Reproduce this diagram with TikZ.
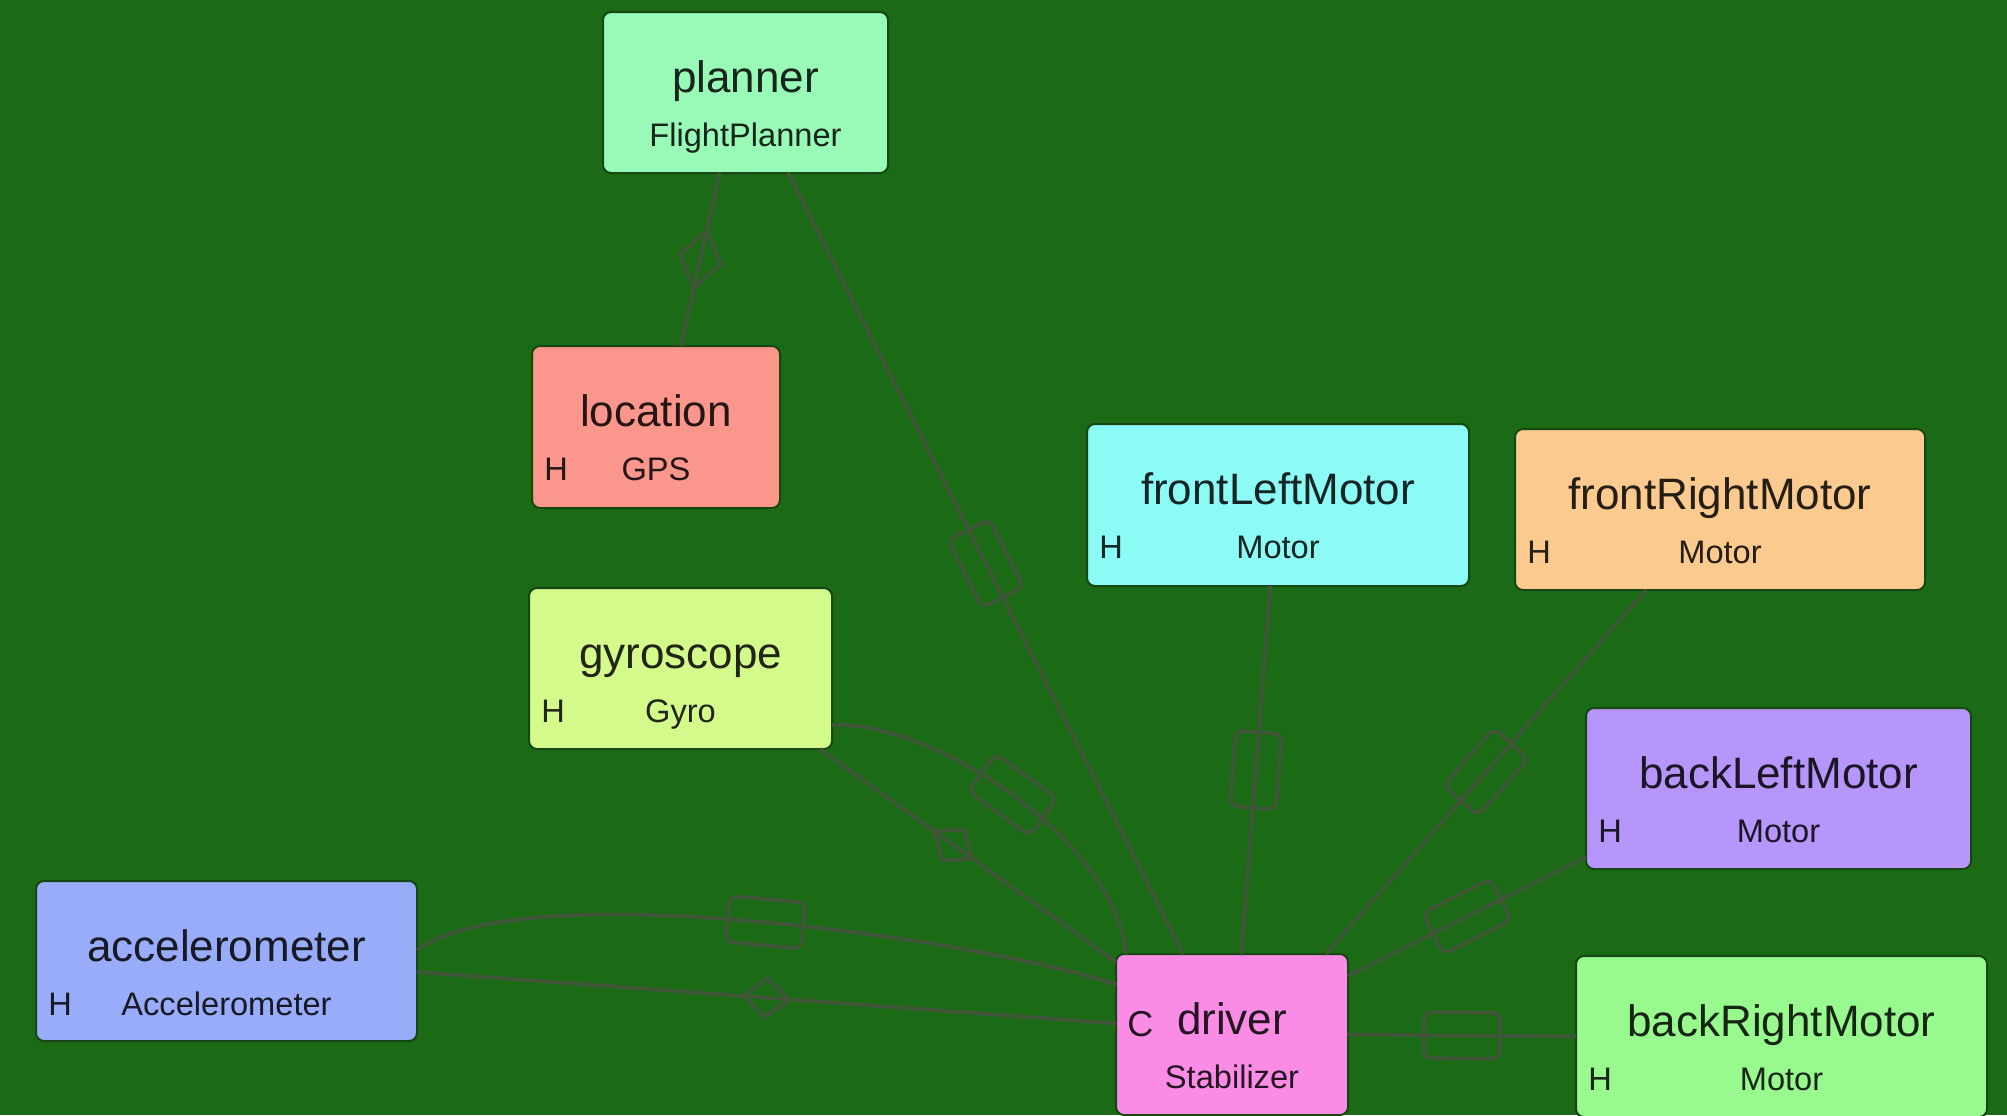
\documentclass[tikz,border=0pt]{standalone}
\usepackage{fontspec}
\setmainfont{Liberation Sans}
\usetikzlibrary{calc,shapes.geometric}

\definecolor{bg}{RGB}{27,106,22}
\definecolor{wirecol}{RGB}{64,86,56}
\definecolor{boxedge}{RGB}{22,70,18}
\definecolor{cPlanner}{RGB}{152,250,182}
\definecolor{cLocation}{RGB}{250,150,140}
\definecolor{cGyro}{RGB}{212,250,140}
\definecolor{cAccel}{RGB}{152,172,250}
\definecolor{cFrontLeft}{RGB}{140,250,245}
\definecolor{cFrontRight}{RGB}{250,202,142}
\definecolor{cBackLeft}{RGB}{182,150,250}
\definecolor{cBackRight}{RGB}{152,250,142}
\definecolor{cDriver}{RGB}{250,140,230}

\tikzset{
  box/.style={rectangle, rounded corners=4pt, draw=boxedge, line width=1pt,
    inner sep=0pt, outer sep=0pt},
  title/.style={font=\fontsize{22}{26}\selectfont, inner sep=0pt, anchor=base},
  kind/.style={font=\fontsize{16.3}{19}\selectfont, inner sep=0pt, anchor=base},
  wire/.style={draw=wirecol, line width=1.9pt},
  port/.style={draw=wirecol, line width=1.9pt, rectangle, rounded corners=4pt,
    minimum width=38pt, minimum height=23pt, inner sep=0pt, sloped},
  agg/.style={draw=wirecol, line width=1.9pt, diamond, minimum width=24pt,
    minimum height=20pt, inner sep=0pt, sloped},
  bigagg/.style={agg, minimum width=30pt, minimum height=22pt},
}

% one component: name, left, top, right, bottom, colour, instance name, type
\newcommand{\compbox}[8]{%
  \node[box, fill=#6, minimum width={(#4-#2)*0.5pt}, minimum height={(#5-#3)*0.5pt}]
    (#1) at ({(#2+#4)/2},{(#3+#5)/2}) {};
  \node[title, text=#6!15!black] (#1-name) at ($(#1.north)+(0,80)$) {#7};
  \node[kind, text=#6!15!black] (#1-kind) at ($(#1.north)+(0,134)$) {#8};
}
\newcommand{\hwmark}[2]{%
  \node[kind, anchor=base west, text=#2!15!black] (#1-h) at ($(#1.north west)+(12,134)$) {H};
}

\begin{document}
\begin{tikzpicture}[x=0.5pt, y=-0.5pt]
  \useasboundingbox (0,0) rectangle (2007,1115);
  \fill[bg] (0,0) rectangle (2007,1115);

  % components
  \compbox{planner}{603}{12}{888}{173}{cPlanner}{planner}{FlightPlanner}
  \compbox{location}{532}{346}{780}{508}{cLocation}{location}{GPS}
  \hwmark{location}{cLocation}
  \compbox{gyroscope}{529}{588}{832}{749}{cGyro}{gyroscope}{Gyro}
  \hwmark{gyroscope}{cGyro}
  \compbox{accelerometer}{36}{881}{417}{1041}{cAccel}{accelerometer}{Accelerometer}
  \hwmark{accelerometer}{cAccel}
  \compbox{frontLeftMotor}{1087}{424}{1469}{586}{cFrontLeft}{frontLeftMotor}{Motor}
  \hwmark{frontLeftMotor}{cFrontLeft}
  \compbox{frontRightMotor}{1515}{429}{1925}{590}{cFrontRight}{frontRightMotor}{Motor}
  \hwmark{frontRightMotor}{cFrontRight}
  \compbox{backLeftMotor}{1586}{708}{1971}{869}{cBackLeft}{backLeftMotor}{Motor}
  \hwmark{backLeftMotor}{cBackLeft}
  \compbox{backRightMotor}{1576}{956}{1987}{1117}{cBackRight}{backRightMotor}{Motor}
  \hwmark{backRightMotor}{cBackRight}
  \compbox{driver}{1116}{954}{1348}{1115}{cDriver}{driver}{Stabilizer}
  \node[font=\fontsize{18}{21}\selectfont, inner sep=0pt, anchor=base west,
    text=cDriver!15!black] (driver-c) at ($(driver.north west)+(11,82)$) {C};

  % connections
  \draw[wire] ($(location.north west)!0.6!(location.north east)$)
    -- node[bigagg] (locAgg) {} ($(planner.south west)!0.41!(planner.south east)$);
  \draw[wire] ($(planner.south west)!0.65!(planner.south east)$)
    -- node[port] (planPort) {} ($(driver.north west)!0.29!(driver.north east)$);

  \draw[wire] ($(gyroscope.south east)+(0,-24)$)
    .. controls +(100,-5) and +(-10,-114) ..
    node[port, pos=0.5] (gyroPort) {} ($(driver.north west)+(10,0)$);
  \draw[wire] ($(gyroscope.south east)+(-12,0)$)
    -- node[agg, pos=0.45] (gyroAgg) {} ($(driver.north west)+(0,8)$);

  \draw[wire] ($(accelerometer.east)+(0,-11)$)
    .. controls +(113,-80) and +(-116,-40) ..
    node[port, pos=0.5] (accelPort) {} ($(driver.west)+(0,-50)$);
  \draw[wire] ($(accelerometer.east)+(0,11)$)
    -- node[agg] (accelAgg) {} ($(driver.west)+(0,-11)$);

  \draw[wire] ($(frontLeftMotor.south west)!0.48!(frontLeftMotor.south east)$)
    -- node[port] (flPort) {} ($(driver.north west)!0.54!(driver.north east)$);
  \draw[wire] ($(frontRightMotor.south west)!0.32!(frontRightMotor.south east)$)
    -- node[port] (frPort) {} ($(driver.north east)+(-22,0)$);
  \draw[wire] ($(backLeftMotor.south west)+(0,-12)$)
    -- node[port] (blPort) {} ($(driver.north east)+(0,22)$);
  \draw[wire] (driver.east) -- node[port] (brPort) {} (backRightMotor.west);
\end{tikzpicture}
\end{document}
